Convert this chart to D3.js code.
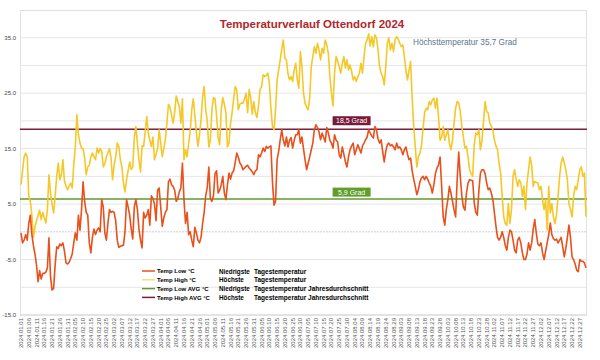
<!DOCTYPE html>
<html>
<head>
<meta charset="utf-8">
<script src="https://cdn.jsdelivr.net/npm/d3@7"></script>
<style>
  body { margin: 0; background: #fff; }
  svg { font-family: "Liberation Sans", Arial, sans-serif; }
</style>
</head>
<body>
<svg id="chart" width="600" height="360"></svg>
<script>
// daily values 2024 (365 points, every 5th labelled)
var tempLow = [
  -0.2,-2,-1.5,-0.5,-1.5,1.5,3,-0.5,-2.5,-4,
  -6,-9,-7,-8.5,-7.5,-7.5,-7.3,-6.5,-1.1,-8,
  -10.5,-10.2,-6,-2.7,-3,-2.2,-2.5,-2,-3.5,-5.6,
  -5.8,-5.5,-4.8,-4,-2,-0.2,-1.5,3,0.3,4,
  9,5.5,3.5,3,-2,-3.8,-1,0.5,-0.5,0.3,
  0.7,0,5.8,4.5,-0.2,-1.5,1.5,4,3.5,3.7,
  3.5,2,-1.5,-2.8,-2.6,-2.5,-2.4,0,5.8,4.5,
  3,0.5,-1.3,4.5,5.8,4,0.5,-1.5,-2.9,3.5,
  2.5,3,4,1.2,6.5,6,5,2,7.5,7.9,
  4.5,1,2.5,3.5,4,9,9.5,8.5,8.2,7.5,
  5.5,6,7.2,7.9,12.4,5.8,1.5,3.5,-0.5,0,
  -1.5,-2.7,0.8,-0.2,-1.5,-2,-1,1.5,3.5,6.5,
  8,11.7,6,5.5,6.5,10.5,11,7,7.5,8.5,
  10,7,5.8,8.5,10.6,9.5,10.6,11,12.5,14.2,
  13.5,12.4,12,11.2,11.5,11.8,12,11.5,11.2,10.8,
  10.3,11,11.2,13.9,13.5,14.2,15.1,14.5,15.4,15.1,
  15.3,15.5,9,4.8,5.5,13,14.5,16.6,18.4,16.5,
  15.5,17.1,15.3,16.5,17,15.1,16.5,17.5,17.5,18.4,
  16,17.1,15,13,11.2,12.4,13.5,14.8,16,18.4,
  19.3,18.8,18,16.6,17.8,17,16.2,18.8,17.8,16.5,
  16,15.1,17.5,16.5,16.2,13.9,13.3,15.3,14,12.6,
  11.7,13.5,14.8,15.5,16,13.9,14.8,15.7,15,14.2,
  15.5,16,16.6,17.1,18.4,17.8,17.3,16.9,19,18.4,
  16.8,16,16.6,14.5,12.6,14.5,15.7,16,15.5,15.7,
  15.3,14.8,16,15.1,15.3,14.8,13.9,14.8,15.3,14,
  13,13.3,11,9.5,8.2,6.7,7.6,9,9.7,10,
  9.4,10,9.5,8.8,8.2,7,8.5,10.5,11.5,12.1,
  13.5,8.2,2.7,1.2,4,5.8,8.2,7,5.5,3.9,
  2.7,9.4,14.4,10,6.5,4.5,3.9,7,8.8,9.4,
  9.3,9.2,5.2,3.5,3,7.5,10.6,11.2,11.2,10.5,
  8.8,7.6,7.9,7,5.8,3.4,1,-1,-1.5,-1,
  0,-1,-2.5,-3.3,-1,0.3,0,-1.5,-3.3,-3.8,
  -1.5,-1,-2,-3.8,-5,-5,-4,-2,-3.3,-2,
  0.5,2.2,-0.3,-2.2,-2.5,-2,-3.8,-5,-3.5,-2,
  -0.5,1.6,-0.5,-1.2,-1.5,-1.3,-2,-1.5,-1,-2.7,
  -4.5,-3,-1,1.2,-1,-4.5,-5,-5.8,-6.9,-7.2,
  -5,-5.3,-5.3,-5.6,-6.5
];
var tempHigh = [
  8.5,11,13.5,14.2,13.5,6.5,5.5,3,-1,0.9,
  2,3,3.9,2.2,3.5,2.5,1.6,3.9,10.3,7,
  5,3.4,6.4,10,12.4,9.4,10.3,13,9.1,8.2,
  7.6,8.3,8.8,7.9,12.1,15.4,21.1,17.5,16,15.1,
  15,13.3,10.3,11.7,12,13.5,14.2,13.5,13,15.1,
  14.2,15,14.5,11.7,12.3,13.5,14.2,15,13.3,9.4,
  12,13.5,16,15.4,13,11.7,8.8,7.2,9.4,11,
  12.6,11.2,11.7,17,19,16,13,10.8,15.5,15.4,
  18,20.8,17.8,16.5,15.4,17.1,13,14,15,18.4,
  16,13.5,15,16.6,19.6,23,22.5,21,19.6,21.5,
  24.5,23.5,22.6,19.6,24,13,14.8,13.5,16,18,
  22,24,21,18,15.4,17.5,20.2,24.4,26.2,22,
  20,15.3,16.5,22,24.2,24,21,17,15.7,22,
  24.2,23,21.5,15.3,16,19.5,21.5,24,26.2,25.5,
  22,23,23.2,23.2,24,25,21.5,25.7,24.2,21.2,
  23.5,21.5,20.6,22.7,25.7,26.2,28.3,28,28.2,28.6,
  26.8,22.3,19,18.4,22,27.4,29.2,31,33,34.6,
  31.3,31,28.5,27.4,28,27.1,29.2,30.4,27.4,25.9,
  32.5,29.8,25,23.2,22.5,22,24.1,29.8,31.6,33.4,
  32.2,34,32.8,31,33.1,32.2,34.6,33.7,32.2,28,
  25,22.7,28.6,31.6,30.7,29.8,28.6,30.4,31.6,29.5,
  31,29.2,30.1,28.9,27.4,28,27.1,28,28.6,30.4,
  28.6,31.6,34,34.6,35.7,33.5,35.2,33.4,35.5,35,
  32.8,29.8,28.6,28,26.5,29.8,34,35,32.8,34,
  32.5,34.6,35.2,34.8,34,33.4,33.7,31.6,29,27.4,
  29.2,30.7,24.2,19,15.3,11.7,13.5,14.1,15.5,18.5,
  21.5,22.3,22,23.5,22.9,23.8,24.1,22.3,24.1,20.6,
  16.5,17.1,19,16.5,17.5,18.4,16,14.8,16.5,19.6,
  22.3,23.5,23.2,21.7,19,17.1,15.1,15.4,13.5,11.2,
  10.5,10,15.7,17.8,17.5,18.4,14.8,16.5,20,23.5,
  21.7,21.4,19.6,19,18.4,16.5,15.5,14.8,12.4,10.6,
  6.4,2.7,1.5,1.2,5.1,1.5,4,10,11.2,9.5,
  8.2,9.4,8.8,6.4,8.2,4,8.8,11.2,13.5,12,
  8.2,9.1,8.9,8.8,7.6,8.2,5.8,4,5.8,0.3,
  8.2,3.4,5.1,2.7,1.5,3,6.4,10,12.4,13.5,
  12.4,11.2,9.4,5.1,4,2.7,6.4,8.2,7.6,9.4,
  11.2,11.7,10,10.6,2.7
];
var lowAvg = 5.9;
var highAvg = 18.5;
var maxHigh = 35.7;

var xTickLabels = [
  "2024.01.01","2024.01.06","2024.01.11","2024.01.16","2024.01.21","2024.01.26","2024.01.31",
  "2024.02.05","2024.02.10","2024.02.15","2024.02.20","2024.02.25",
  "2024.03.02","2024.03.07","2024.03.12","2024.03.17","2024.03.22","2024.03.27",
  "2024.04.01","2024.04.06","2024.04.11","2024.04.16","2024.04.21","2024.04.26",
  "2024.05.01","2024.05.06","2024.05.11","2024.05.16","2024.05.21","2024.05.26","2024.05.31",
  "2024.06.05","2024.06.10","2024.06.15","2024.06.20","2024.06.25","2024.06.30",
  "2024.07.05","2024.07.10","2024.07.15","2024.07.20","2024.07.25","2024.07.30",
  "2024.08.04","2024.08.09","2024.08.14","2024.08.19","2024.08.24","2024.08.29",
  "2024.09.03","2024.09.08","2024.09.13","2024.09.18","2024.09.23","2024.09.28",
  "2024.10.03","2024.10.08","2024.10.13","2024.10.18","2024.10.23","2024.10.28",
  "2024.11.02","2024.11.07","2024.11.12","2024.11.17","2024.11.22","2024.11.27",
  "2024.12.02","2024.12.07","2024.12.12","2024.12.17","2024.12.22","2024.12.27"
];
var yTicks = [35, 25, 15, 5, -5, -15];
var yGrid = [35, 30, 25, 20, 15, 10, 5, -5, -10];

var legendNames = ["Temp Low °C", "Temp High °C", "Temp Low AVG °C", "Temp High AVG °C"];
var legendWord = ["Niedrigste", "Höchste", "Niedrigste", "Höchste"];
var legendDesc = ["Tagestemperatur", "Tagestemperatur", "Tagestemperatur Jahresdurchschnitt", "Tagestemperatur Jahresdurchschnitt"];
var legendColors = ["#e8501c", "#f3e07a", "#5e9b2c", "#7a1f3c"];

var svg = d3.select("#chart");

var x = d3.scaleLinear().domain([0, tempLow.length - 1]).range([21, 586]);
var y = d3.scaleLinear().domain([-15, 40]).range([315, 10]);

// frame
svg.append("rect")
    .attr("x", 20.5).attr("y", 10.5)
    .attr("width", 566).attr("height", 304.5)
    .attr("fill", "none").attr("stroke", "#e2e2e2");

// grid
svg.selectAll("line.grid")
    .data(yGrid)
    .enter().append("line")
    .attr("class", "grid")
    .attr("x1", 20).attr("x2", 587)
    .attr("y1", function(d) { return y(d); })
    .attr("y2", function(d) { return y(d); })
    .attr("stroke", "#e6e6e6");

svg.append("line")
    .attr("x1", 20).attr("x2", 587)
    .attr("y1", y(0)).attr("y2", y(0))
    .attr("stroke", "#cfcfcf")
    .attr("stroke-dasharray", "2,1");

svg.append("line")
    .attr("x1", 20).attr("x2", 587)
    .attr("y1", y(-15)).attr("y2", y(-15))
    .attr("stroke", "#d6d6d6");

// y labels
svg.selectAll("text.ylab")
    .data(yTicks)
    .enter().append("text")
    .attr("class", "ylab")
    .attr("x", 16)
    .attr("y", function(d) { return y(d) + 2; })
    .attr("text-anchor", "end")
    .attr("font-size", 6)
    .attr("fill", "#444")
    .text(function(d) { return d.toFixed(1); });

// x labels, every 5th day
svg.selectAll("text.xlab")
    .data(xTickLabels)
    .enter().append("text")
    .attr("class", "xlab")
    .attr("transform", function(d, i) {
        return "translate(" + (x(i * 5) + 2) + ",318) rotate(-90)";
    })
    .attr("text-anchor", "end")
    .attr("font-size", 6)
    .attr("fill", "#555")
    .text(function(d) { return d; });

// average lines
svg.append("line")
    .attr("x1", 20).attr("x2", 587)
    .attr("y1", y(lowAvg)).attr("y2", y(lowAvg))
    .attr("stroke", "#5e9b2c").attr("stroke-width", 1.5);

svg.append("line")
    .attr("x1", 20).attr("x2", 587)
    .attr("y1", y(highAvg)).attr("y2", y(highAvg))
    .attr("stroke", "#7a1f3c").attr("stroke-width", 1.5);

// series
var line = d3.line()
    .x(function(d, i) { return x(i); })
    .y(function(d) { return y(d); });

svg.append("path")
    .datum(tempHigh)
    .attr("d", line)
    .attr("fill", "none")
    .attr("stroke", "#f5c829")
    .attr("stroke-width", 1.6)
    .attr("stroke-linejoin", "round");

svg.append("path")
    .datum(tempLow)
    .attr("d", line)
    .attr("fill", "none")
    .attr("stroke", "#e8501c")
    .attr("stroke-width", 1.6)
    .attr("stroke-linejoin", "round");

// avg badges
function badge(val, color, dy) {
    var cx = x(213), cy = y(val) + dy;
    svg.append("rect")
        .attr("x", cx - 19).attr("y", cy - 4.5)
        .attr("width", 38).attr("height", 9)
        .attr("fill", color);
    svg.append("text")
        .attr("x", cx).attr("y", cy + 2.5)
        .attr("text-anchor", "middle")
        .attr("font-size", 7)
        .attr("fill", "#fff")
        .text(String(val).replace(".", ",") + " Grad");
}
badge(highAvg, "#7a1a3a", -8.5);
badge(lowAvg, "#5e9e2a", -7);

// title
svg.append("text")
    .attr("x", 312).attr("y", 28)
    .attr("text-anchor", "middle")
    .attr("font-size", 11.5)
    .attr("font-weight", "bold")
    .attr("fill", "#b3262c")
    .text("Temperaturverlauf Ottendorf 2024");

svg.append("text")
    .attr("x", 413).attr("y", 45)
    .attr("font-size", 8.2)
    .attr("fill", "#5a7590")
    .text("Höchsttemperatur " + String(maxHigh).replace(".", ",") + " Grad");

// legend
var lg = svg.append("g").attr("transform", "translate(142,271)");
legendNames.forEach(function(name, i) {
    var row = lg.append("g").attr("transform", "translate(0," + (i * 8.8) + ")");
    row.append("line")
        .attr("x1", 0).attr("x2", 13)
        .attr("stroke", legendColors[i]).attr("stroke-width", 1.5);
    row.append("text")
        .attr("x", 15).attr("y", 2.2)
        .attr("font-size", 6).attr("font-weight", "bold")
        .text(name);
    row.append("text")
        .attr("x", 77).attr("y", 2.5)
        .attr("font-size", 6.3).attr("font-weight", "bold")
        .text(legendWord[i]);
    row.append("text")
        .attr("x", 112).attr("y", 2.5)
        .attr("font-size", 6.5).attr("font-weight", "bold")
        .text(legendDesc[i]);
});
</script>
</body>
</html>
